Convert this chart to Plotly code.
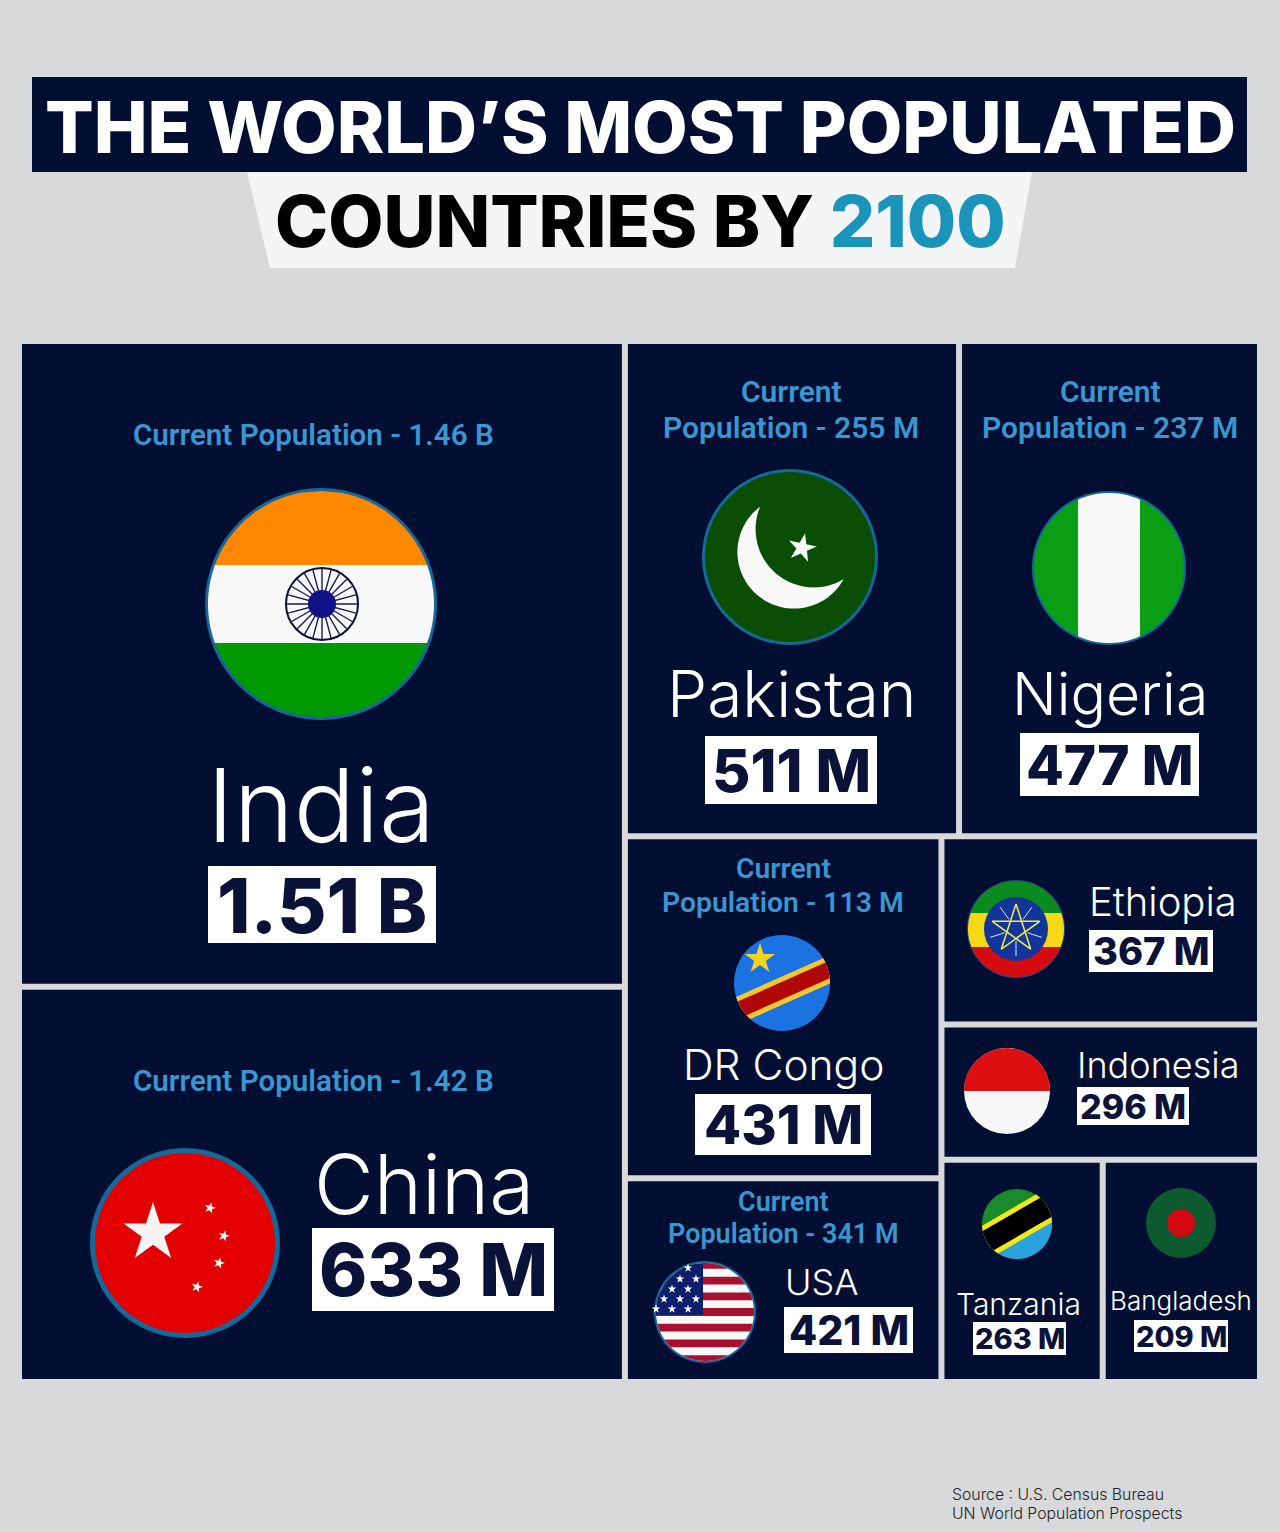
import math
import plotly.graph_objects as go

W, H = 1280, 1532

BG = "#d8d9db"
NAVY = "#020f33"
BLUE_TXT = "#3b95cf"
RING = "#14689a"

countries = ["India", "China", "Pakistan", "Nigeria", "DR Congo", "USA",
             "Ethiopia", "Indonesia", "Tanzania", "Bangladesh"]
population_2100 = ["1.51 B", "633 M", "511 M", "477 M", "431 M", "421 M",
                   "367 M", "296 M", "263 M", "209 M"]
current_population = ["1.46 B", "1.42 B", "255 M", "237 M", "113 M", "341 M",
                      None, None, None, None]
# tile areas as they appear in the picture (they are not strictly proportional to population)
tile_area = [387126, 236979, 163756, 147504, 107100, 63788,
             59279, 42637, 35471, 34587]
tile_parent = ["big", "big", "upper", "upper", "mid", "mid",
               "side", "side", "small", "small"]

groups = ["world", "big", "rest", "upper", "lower", "mid", "side", "small"]
group_parent = ["", "world", "world", "rest", "rest", "lower", "lower", "side"]

# countries go first so that "small" lands below Ethiopia and Indonesia
fig = go.Figure(go.Treemap(
    ids=countries + groups,
    labels=countries + groups,
    parents=tile_parent + group_parent,
    values=tile_area + [0] * len(groups),
    branchvalues="remainder",
    sort=False,
    textinfo="none",
    hoverinfo="label",
    tiling=dict(packing="slice-dice", pad=6),
    pathbar=dict(visible=False),
    marker=dict(colors=[NAVY] * len(countries) + [BG] * len(groups),
                line=dict(width=0),
                pad=dict(t=0, l=0, r=0, b=0),
                depthfade=False),
    domain=dict(x=[22 / W, 1257 / W], y=[1 - 1379 / H, 1 - 344 / H]),
))

shapes = []
notes = []


def px(x):
    return x / W


def py(y):
    return 1 - y / H


def path(points, color):
    d = "M" + " L".join(f"{px(x):.5f},{py(y):.5f}" for x, y in points) + " Z"
    shapes.append(dict(type="path", path=d, xref="paper", yref="paper",
                       fillcolor=color, line=dict(width=0)))


def line(x0, y0, x1, y1, color, width):
    shapes.append(dict(type="line", xref="paper", yref="paper",
                       x0=px(x0), y0=py(y0), x1=px(x1), y1=py(y1),
                       line=dict(color=color, width=width)))


def disc(cx, cy, r, color):
    shapes.append(dict(type="circle", xref="paper", yref="paper",
                       x0=px(cx - r), x1=px(cx + r), y0=py(cy - r), y1=py(cy + r),
                       fillcolor=color, line=dict(width=0)))


def rect(x0, y0, x1, y1, color):
    shapes.append(dict(type="rect", xref="paper", yref="paper",
                       x0=px(x0), x1=px(x1), y0=py(y0), y1=py(y1),
                       fillcolor=color, line=dict(width=0)))


def band(cx, cy, r, a, b, color, angle=0, u_max=None):
    # part of a circle between offsets a and b, turned by angle degrees
    a, b = max(a, -r), min(b, r)
    t = math.radians(angle)
    n = 40
    vs = [a + (b - a) * i / n for i in range(n + 1)]
    right = [(math.sqrt(max(r * r - v * v, 0)), v) for v in vs]
    if u_max is not None:
        right = [(min(u, u_max), v) for u, v in right]
    left = [(-math.sqrt(max(r * r - v * v, 0)), v) for v in reversed(vs)]
    pts = [(cx + u * math.cos(t) - v * math.sin(t),
            cy + u * math.sin(t) + v * math.cos(t)) for u, v in right + left]
    path(pts, color)


def crescent(x1, y1, r1, x2, y2, r2, color):
    # circle 1 minus circle 2
    d = math.hypot(x2 - x1, y2 - y1)
    th = math.atan2(y2 - y1, x2 - x1)
    al = math.acos((d * d + r1 * r1 - r2 * r2) / (2 * d * r1))
    ga = math.acos((d * d + r2 * r2 - r1 * r1) / (2 * d * r2))
    n = 60
    pts = []
    for i in range(n + 1):
        t = th + al + (2 * math.pi - 2 * al) * i / n
        pts.append((x1 + r1 * math.cos(t), y1 + r1 * math.sin(t)))
    for i in range(n + 1):
        t = th + math.pi + ga - 2 * ga * i / n
        pts.append((x2 + r2 * math.cos(t), y2 + r2 * math.sin(t)))
    path(pts, color)


def star(cx, cy, R, color, rot=0, ratio=0.382):
    pts = []
    for i in range(10):
        rad = R if i % 2 == 0 else R * ratio
        t = math.radians(-90 + rot + i * 36)
        pts.append((cx + rad * math.cos(t), cy + rad * math.sin(t)))
    path(pts, color)


def text(x, y, s, size, color="white", family="Inter", weight=400, anchor="center"):
    notes.append(dict(xref="paper", yref="paper", x=px(x), y=py(y), text=s,
                      showarrow=False, xanchor=anchor, yanchor="middle",
                      font=dict(family=family, size=size, color=color, weight=weight)))


def value_box(x0, y0, x1, y1, s, size):
    rect(x0, y0, x1, y1, "white")
    text((x0 + x1) / 2, (y0 + y1) / 2, s, size, color="#0a1238", weight=800)


def current(x, y, s, size, gap=None):
    if gap is None:
        text(x, y, f"Current Population - {s}", size, BLUE_TXT, "Roboto", 600)
    else:
        text(x, y, "Current", size, BLUE_TXT, "Roboto", 600)
        text(x, y + gap, f"Population - {s}", size, BLUE_TXT, "Roboto", 600)


# header
rect(32, 77, 1247, 172, NAVY)
path([(247, 172), (1032, 172), (1015, 268), (270, 268)], "#f4f5f7")
text(640, 126, "THE WORLD’S MOST POPULATED", 72, "white", weight=800)
text(640, 221, 'COUNTRIES BY <span style="color:#1a94b8">2100</span>', 71.5, "#000000", weight=800)

# India
current(313, 435, current_population[0], 29.6)
disc(321, 604, 116, RING)
band(321, 604, 113, -113, -39, "#ff8800")
band(321, 604, 113, -39, 39, "#f8f8f8")
band(321, 604, 113, 39, 113, "#009a00")
for i in range(24):
    t = math.radians(i * 15)
    line(322, 604, 322 + 35 * math.cos(t), 604 + 35 * math.sin(t), "#1a1a50", 1.4)
shapes.append(dict(type="circle", xref="paper", yref="paper",
                   x0=px(286), x1=px(358), y0=py(568), y1=py(640),
                   line=dict(color="#0b0f3a", width=2)))
disc(322, 604, 14, "#11118a")
text(321, 805, countries[0], 102, weight=300)
value_box(208, 866, 436, 943, population_2100[0], 76)

# China
current(313, 1081, current_population[1], 29.6)
disc(185, 1243, 95, RING)
disc(185, 1243, 90, "#e30000")
star(153, 1233, 31, "#f8f4f4")
for sx, sy in [(210, 1208), (224, 1236), (219, 1263), (197, 1287)]:
    star(sx, sy, 6, "#f8f4f4", rot=15)
text(424, 1184, countries[1], 82, weight=300)
value_box(312, 1228, 554, 1311, population_2100[1], 73)

# Pakistan
current(791, 391, current_population[2], 30, gap=37)
disc(790, 557, 88, RING)
disc(790, 557, 85, "#0a4d05")
crescent(794, 552, 56.6, 813.8, 529.2, 58.2, "#f8f8f8")
star(802, 548, 15, "#f8f8f8", rot=12)
text(791, 693, countries[2], 64, weight=300)
value_box(705, 736, 877, 804, population_2100[2], 59)

# Nigeria
current(1110, 391, current_population[3], 30, gap=37)
disc(1109, 568, 77, RING)
disc(1109, 568, 75, "#0a9f14")
band(1109, 568, 75, -31, 31, "#f8f8f8", angle=90)
text(1110, 693, countries[3], 59, weight=300)
value_box(1020, 733, 1199, 796, population_2100[3], 55)

# DR Congo
current(783, 868, current_population[4], 28.3, gap=34)
disc(782, 983, 48, "#1a73e0")
band(782, 983, 48, -6, 20, "#f2c82e", angle=-24)
band(782, 983, 48, -1, 15, "#b00808", angle=-24)
star(760, 959, 16, "#f5d21f")
text(783, 1064, countries[4], 42.5, weight=300)
value_box(695, 1094, 871, 1155, population_2100[4], 54)

# USA
current(783, 1202, current_population[5], 27, gap=32)
disc(705, 1312, 51, RING)
disc(705, 1312, 49, "#f8f8f8")
for i in range(0, 13, 2):
    top = -51 + i * 102 / 13
    band(705, 1312, 49, top, top + 102 / 13, "#a81030")
band(705, 1312, 49, -49, 3, "#0d1f6b", u_max=-2)
for sx, sy in [(688, 1268), (680, 1279), (696, 1279), (672, 1289), (688, 1289),
               (664, 1299), (680, 1299), (696, 1299), (656, 1309), (672, 1309), (688, 1309)]:
    star(sx, sy, 4.5, "white")
text(821, 1282, countries[5], 36, weight=300)
value_box(784, 1307, 913, 1353, population_2100[5], 41)

# Ethiopia
disc(1016, 929, 49, "#2b4a78")
band(1016, 929, 48, -48, -16, "#0b8a1e")
band(1016, 929, 48, -16, 18, "#f5d816")
band(1016, 929, 48, 18, 48, "#d40c10")
disc(1016, 929, 32, "#13349a")
for i in range(5):
    t = math.radians(-54 + i * 72)
    line(1016 + 12 * math.cos(t), 929 + 12 * math.sin(t),
         1016 + 27 * math.cos(t), 929 + 27 * math.sin(t), "#dfe6f5", 1)
for i in range(5):
    t0 = math.radians(-90 + i * 72)
    t1 = math.radians(-90 + (i + 2) * 72)
    line(1016 + 25 * math.cos(t0), 929 + 25 * math.sin(t0),
         1016 + 25 * math.cos(t1), 929 + 25 * math.sin(t1), "#f0ee50", 1.5)
text(1163, 901, countries[6], 40, weight=300)
value_box(1089, 930, 1213, 972, population_2100[6], 38)

# Indonesia
disc(1007, 1091, 43, "#f4f6f8")
band(1007, 1091, 43, -43, 0, "#dc1010")
text(1158, 1065, countries[7], 36, weight=300)
value_box(1077, 1087, 1189, 1125, population_2100[7], 34)

# Tanzania
disc(1017, 1224, 35, "#1a8a2a")
band(1017, 1224, 35, 0, 35, "#2aa3dc", angle=-30)
band(1017, 1224, 35, -16, 16, "#f0e818", angle=-30)
band(1017, 1224, 35, -11, 11, "#000000", angle=-30)
text(1018, 1304, countries[8], 30, weight=300)
value_box(973, 1322, 1066, 1355, population_2100[8], 29)

# Bangladesh
disc(1181, 1223, 35, "#0d5a30")
disc(1181, 1223, 14, "#d00a10")
text(1181, 1300, countries[9], 26, weight=300)
value_box(1134, 1320, 1228, 1352, population_2100[9], 29)

# source
text(950, 1494, "Source : U.S. Census Bureau", 15.8, "#222222", anchor="left", weight=300)
text(950, 1513, "UN World Population Prospects", 15.8, "#222222", anchor="left", weight=300)

fig.update_layout(
    width=W, height=H,
    margin=dict(l=0, r=0, t=0, b=0),
    paper_bgcolor=BG,
    plot_bgcolor=BG,
    showlegend=False,
    shapes=shapes,
    annotations=notes,
)

fig.write_html("out.html", config=dict(displayModeBar=False),
               post_script="document.body.style.margin='0';")
